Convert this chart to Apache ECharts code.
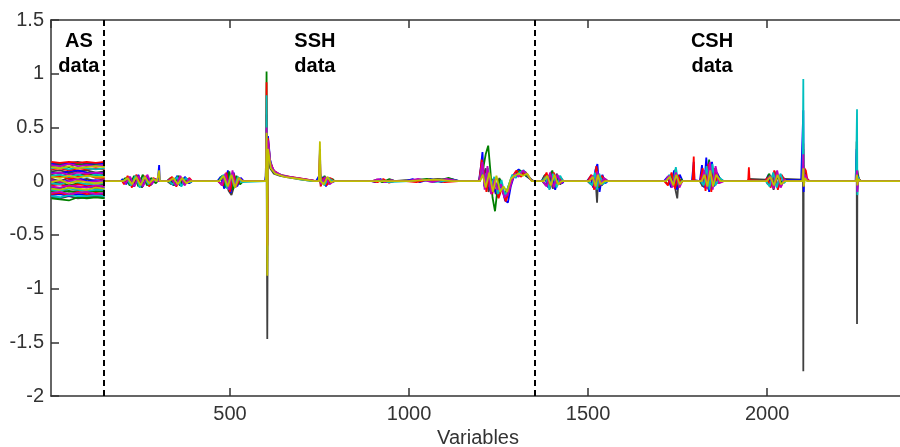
<!DOCTYPE html>
<html><head><meta charset="utf-8">
<script src="https://cdn.jsdelivr.net/npm/echarts@6/dist/echarts.min.js"></script>
<style>html,body{margin:0;padding:0;background:#fff}#c{width:900px;height:447px}</style>
</head><body><div id="c"></div>
<script>
// ---- data ----
const asX = [1, 25, 50, 75, 100, 125, 150];

const grayAS = [
  [0.17,0.16,0.17,0.18,0.16,0.17,0.17],
  [0.09,0.10,0.08,0.09,0.10,0.08,0.09],
  [0.02,0.00,0.03,0.01,0.02,0.00,0.02],
  [-0.09,-0.08,-0.10,-0.09,-0.08,-0.10,-0.09],
  [-0.15,-0.16,-0.14,-0.16,-0.15,-0.14,-0.15]
];
const blueAS = [
  [0.16,0.15,0.17,0.16,0.15,0.16,0.16],
  [0.08,0.07,0.09,0.10,0.08,0.07,0.08],
  [0.00,-0.02,0.01,0.03,0.00,0.01,0.00],
  [-0.06,-0.07,-0.04,-0.06,-0.05,-0.07,-0.06],
  [-0.13,-0.12,-0.14,-0.12,-0.13,-0.12,-0.13]
];
const greenAS = [
  [0.14,0.15,0.13,0.16,0.14,0.15,0.14],
  [0.06,0.04,0.07,0.05,0.07,0.05,0.06],
  [-0.03,-0.01,-0.04,-0.02,-0.03,-0.02,-0.03],
  [-0.10,-0.11,-0.09,-0.11,-0.10,-0.09,-0.10],
  [-0.16,-0.17,-0.18,-0.15,-0.16,-0.15,-0.16]
];
const redAS = [
  [0.18,0.17,0.18,0.17,0.18,0.17,0.18],
  [0.11,0.12,0.10,0.12,0.11,0.12,0.11],
  [0.03,0.05,0.02,0.04,0.06,0.03,0.03],
  [-0.04,-0.03,-0.05,-0.03,-0.04,-0.05,-0.04],
  [-0.12,-0.11,-0.13,-0.10,-0.12,-0.11,-0.12]
];
const cyanAS = [
  [0.12,0.13,0.11,0.13,0.12,0.11,0.12],
  [0.05,0.06,0.04,0.06,0.04,0.06,0.05],
  [-0.02,-0.03,0.00,-0.01,-0.03,-0.02,-0.02],
  [-0.08,-0.09,-0.07,-0.08,-0.09,-0.08,-0.08],
  [-0.14,-0.15,-0.13,-0.14,-0.14,-0.13,-0.14]
];
const magentaAS = [
  [0.15,0.14,0.16,0.14,0.15,0.14,0.15],
  [0.07,0.08,0.06,0.08,0.07,0.08,0.07],
  [0.01,-0.01,0.00,0.02,-0.01,0.00,0.01],
  [-0.05,-0.06,-0.04,-0.05,-0.06,-0.04,-0.05],
  [-0.11,-0.10,-0.12,-0.11,-0.10,-0.12,-0.11]
];
const yellowAS = [
  [0.13,0.12,0.14,0.12,0.13,0.14,0.13],
  [0.04,0.03,0.05,0.03,0.05,0.04,0.04],
  [-0.01,0.01,-0.02,0.00,-0.01,-0.02,-0.01],
  [-0.07,-0.08,-0.06,-0.07,-0.08,-0.06,-0.07]
];

const grayTrace = [
  [150,0],[198,0],[206,-0.02],[218,0.03],[230,-0.04],[242,0.04],[254,-0.06],[266,0.03],[278,-0.04],[290,0.02],[298,0],
  [324,0],[336,-0.03],[348,0.03],[360,-0.04],[372,0.03],[384,-0.02],[394,0],
  [466,0],[476,-0.03],[486,0.05],[496,-0.09],[504,-0.13],[512,-0.04],[522,0.03],[536,0],
  [599,0],[602,0.35],[604,-1.47],[606,0.25],[612,0.12],[622,0.07],[640,0.05],[670,0.03],[710,0.01],[740,0],
  [748,0],[751,0.12],[753,-0.03],[762,0.02],[772,-0.03],[784,0.01],[792,0],
  [900,0],[915,0.01],[930,-0.01],[958,0],[990,0.01],[1040,0.01],[1080,0.02],[1130,0.01],[1140,0],
  [1196,0],[1202,0.15],[1208,0.05],[1214,0.12],[1222,-0.1],[1232,0.02],[1242,-0.12],[1252,0.03],[1262,-0.1],[1272,-0.16],[1282,-0.02],[1292,0.04],[1302,0.09],[1314,0.05],[1326,0.08],[1340,0.02],[1348,0],
  [1372,0],[1382,-0.04],[1392,0.06],[1402,-0.07],[1412,0.07],[1422,-0.03],[1432,0],
  [1498,0],[1508,-0.03],[1516,0.05],[1522,-0.05],[1525,-0.2],[1528,0.03],[1538,-0.04],[1548,0.02],[1556,0],
  [1714,0],[1724,-0.03],[1734,0.05],[1742,-0.05],[1749,-0.16],[1753,0.02],[1762,0],
  [1812,0],[1820,-0.05],[1828,0.1],[1836,-0.08],[1844,0.12],[1852,-0.03],[1862,0.05],[1872,0.01],[1880,0],
  [1946,0],[1949,0.02],[1995,0.015],[2002,-0.03],[2010,0.05],[2018,-0.08],[2028,0.06],[2038,-0.05],[2048,0.02],[2052,0.015],[2098,0.015],
  [2100,0.38],[2101,-1.77],[2102,0.15],[2106,0.05],[2112,0.02],[2118,0],
  [2248,0],[2250,0.37],[2251,-1.33],[2252,0.1],[2256,0.02],[2262,0],[2385,0]
];
const blueTrace = [
  [150,0],[195,0],[200,0.02],[210,-0.03],[220,0.04],[232,-0.05],[244,0.06],[256,-0.05],[268,0.05],[280,-0.03],[292,0.02],[298,0],
  [300,0],[302,0.15],[304,0],
  [324,0],[332,0.02],[342,-0.04],[352,0.05],[362,-0.04],[374,0.04],[386,-0.02],[394,0],
  [465,0],[474,0.04],[484,-0.07],[494,0.1],[502,-0.11],[510,0.08],[520,-0.05],[530,0.03],[538,0],
  [598,0],[600,0.05],[602,0.62],[604,-0.25],[606,0.42],[612,0.2],[620,0.1],[635,0.06],[660,0.04],[700,0.02],[740,0],
  [745,0],[749,0.05],[751,0.3],[753,-0.02],[760,0.04],[768,-0.05],[776,0.03],[786,-0.01],[792,0],
  [895,0],[905,-0.01],[920,0.02],[935,-0.01],[950,0.01],[960,0],[990,0],[1010,0.02],[1030,-0.01],[1060,0.02],[1090,-0.01],[1120,0.02],[1140,0],
  [1195,0],[1200,0.12],[1205,0.27],[1210,-0.05],[1218,0.1],[1226,-0.08],[1236,-0.05],[1248,-0.15],[1256,-0.02],[1268,-0.18],[1276,-0.2],[1284,-0.05],[1296,0.08],[1306,0.11],[1318,0.07],[1330,0.04],[1345,0],
  [1370,0],[1378,0.05],[1388,-0.06],[1398,0.09],[1408,-0.08],[1418,0.05],[1428,-0.02],[1432,0],
  [1497,0],[1506,0.04],[1514,-0.06],[1520,0.1],[1526,0.16],[1532,-0.1],[1540,0.06],[1548,-0.02],[1555,0],
  [1712,0],[1722,0.04],[1732,-0.06],[1740,0.1],[1748,-0.08],[1756,0.06],[1764,0],
  [1790,0],[1795,0.18],[1797,0.01],[1812,0],[1818,0.15],[1824,-0.06],[1830,0.22],[1838,-0.1],[1846,0.18],[1852,-0.05],[1860,0.08],[1870,0.01],[1880,0],
  [1995,0],[2004,0.06],[2012,-0.04],[2020,0.08],[2030,-0.07],[2040,0.05],[2050,0.01],[2095,0.01],
  [2099,0],[2101,0.66],[2102,-0.1],[2104,0.1],[2110,0.02],[2118,0],
  [2247,0],[2250,0.3],[2251,-0.1],[2253,0.05],[2258,0],[2385,0]
];
const greenTrace = [
  [150,0],[200,0],[208,0.03],[220,-0.04],[232,0.05],[244,-0.05],[256,0.06],[268,-0.04],[280,0.03],[292,-0.02],[298,0],
  [324,0],[334,0.03],[344,-0.04],[356,0.05],[368,-0.03],[380,0.02],[392,0],
  [468,0],[478,0.05],[488,-0.06],[498,0.09],[508,-0.08],[518,0.05],[528,-0.03],[537,0],
  [600,0],[602,1.02],[604,-0.2],[606,0.3],[612,0.15],[624,0.08],[645,0.05],[680,0.03],[720,0.01],[740,0],
  [747,0],[751,0.1],[754,-0.04],[764,0.05],[774,-0.02],[786,0.02],[792,0],
  [898,0],[910,0.015],[925,-0.01],[945,0.02],[960,0],[995,0],[1015,0.01],[1050,0.02],[1080,0],[1110,0.03],[1135,0],
  [1198,0],[1206,0.1],[1214,0.25],[1221,0.33],[1227,0.1],[1233,-0.15],[1240,-0.28],[1246,-0.1],[1254,0.02],[1264,-0.12],[1274,-0.08],[1286,0.03],[1298,0.06],[1310,0.1],[1322,0.06],[1336,0.03],[1346,0],
  [1371,0],[1380,0.06],[1390,-0.05],[1400,0.1],[1410,-0.05],[1420,0.04],[1430,0],
  [1500,0],[1510,0.05],[1518,-0.04],[1524,0.12],[1530,-0.06],[1540,0.03],[1552,0],
  [1716,0],[1726,0.05],[1736,-0.05],[1744,0.11],[1752,-0.05],[1760,0.02],[1764,0],
  [1814,0],[1822,0.08],[1830,-0.05],[1838,0.2],[1846,-0.06],[1854,0.1],[1866,0.02],[1878,0],
  [1996,0],[2006,0.07],[2016,-0.05],[2026,0.09],[2036,-0.04],[2046,0.03],[2052,0],
  [2099,0],[2101,0.3],[2102,-0.05],[2105,0.08],[2112,0.01],[2118,0],
  [2248,0],[2251,0.2],[2252,-0.05],[2255,0.03],[2260,0],[2385,0]
];
const redTrace = [
  [150,0],[199,0],[204,-0.03],[214,0.05],[226,-0.06],[238,0.06],[250,-0.04],[262,0.05],[274,-0.05],[286,0.03],[296,0],
  [326,0],[338,0.04],[350,-0.05],[362,0.04],[374,-0.03],[386,0.03],[394,0],
  [467,0],[480,-0.04],[490,0.08],[500,-0.1],[510,0.07],[518,-0.04],[528,0.02],[536,0],
  [600,0],[602,0.92],[604,-0.6],[606,0.4],[612,0.18],[622,0.1],[640,0.06],[668,0.04],[705,0.02],[740,0],
  [748,0],[751,0.26],[753,-0.05],[760,0.03],[770,-0.04],[780,0.03],[790,0],
  [896,0],[912,-0.01],[928,0.02],[944,-0.015],[958,0],[992,0],[1020,-0.01],[1055,0.015],[1100,-0.01],[1138,0],
  [1196,0],[1203,0.2],[1209,0.08],[1216,-0.1],[1224,0.05],[1232,-0.12],[1242,-0.02],[1250,-0.16],[1260,-0.06],[1270,-0.19],[1280,-0.08],[1290,0.05],[1300,0.1],[1312,0.04],[1324,0.09],[1338,0.02],[1347,0],
  [1373,0],[1384,0.08],[1394,-0.07],[1404,0.08],[1414,-0.04],[1424,0.03],[1431,0],
  [1499,0],[1509,0.06],[1517,-0.08],[1523,0.14],[1529,-0.05],[1538,0.05],[1550,0],
  [1713,0],[1723,-0.04],[1733,0.08],[1743,-0.07],[1751,0.06],[1759,-0.02],[1764,0],
  [1792,0],[1795,0.23],[1797,0],
  [1813,0],[1820,0.12],[1828,-0.09],[1836,0.16],[1844,-0.1],[1852,0.12],[1862,-0.02],[1876,0],
  [1947,0],[1949,0.13],[1951,0.01],[1994,0],[2000,0.03],[2010,-0.06],[2020,0.1],[2030,-0.08],[2040,0.06],[2050,0],
  [2099,0],[2101,0.35],[2102,0],[2104,0.12],[2108,0.1],[2112,0.02],[2118,0],
  [2248,0],[2251,0.12],[2252,-0.03],[2256,0.02],[2260,0],[2385,0]
];
const cyanTrace = [
  [150,0],[200,0],[212,0.02],[224,-0.04],[236,0.05],[248,-0.06],[260,0.04],[272,-0.03],[284,0.02],[294,0],
  [328,0],[340,-0.03],[352,0.04],[364,-0.05],[376,0.03],[388,-0.01],[394,0],
  [469,0],[482,0.06],[492,-0.07],[502,0.06],[512,-0.05],[522,0.04],[532,-0.01],[537,0],
  [600,0],[602,0.8],[604,-0.15],[606,0.35],[614,0.14],[626,0.08],[650,0.05],[690,0.02],[730,0],
  [748,0],[751,0.06],[754,0.02],[764,-0.04],[774,0.03],[788,0],
  [902,0],[922,0.01],[940,-0.01],[1000,0],[1030,0.015],[1070,-0.01],[1120,0.01],[1138,0],
  [1197,0],[1204,0.14],[1212,-0.04],[1220,0.12],[1228,-0.06],[1238,0.04],[1248,-0.12],[1258,0.01],[1268,-0.14],[1278,-0.04],[1288,0.06],[1298,0.03],[1308,0.08],[1320,0.1],[1332,0.05],[1345,0],
  [1372,0],[1382,0.04],[1392,-0.08],[1402,0.07],[1412,-0.06],[1422,0.05],[1430,0],
  [1501,0],[1511,-0.04],[1519,0.08],[1525,-0.08],[1531,0.07],[1541,-0.03],[1553,0],
  [1717,0],[1727,0.06],[1737,-0.04],[1745,0.13],[1753,-0.04],[1762,0],
  [1815,0],[1823,-0.04],[1831,0.14],[1839,-0.08],[1847,0.16],[1855,-0.04],[1868,0.03],[1878,0],
  [1997,0],[2007,-0.05],[2017,0.08],[2027,-0.06],[2037,0.07],[2047,-0.02],[2052,0],
  [2099,0],[2101,0.95],[2102,0],[2105,0.05],[2112,0],
  [2248,0],[2251,0.67],[2252,-0.13],[2254,0.04],[2258,0],[2385,0]
];
const magentaTrace = [
  [150,0],[201,0],[209,-0.02],[221,0.04],[233,-0.05],[245,0.05],[257,-0.05],[269,0.06],[281,-0.03],[291,0.02],[297,0],
  [325,0],[337,0.02],[349,-0.04],[361,0.05],[373,-0.04],[385,0.02],[393,0],
  [468,0],[477,-0.04],[487,0.07],[497,-0.08],[507,0.1],[515,-0.06],[525,0.03],[535,0],
  [600,0],[602,0.5],[604,-0.4],[606,0.38],[613,0.16],[624,0.09],[648,0.05],[685,0.03],[725,0.01],[740,0],
  [748,0],[751,0.08],[754,-0.03],[766,0.04],[778,-0.03],[790,0],
  [897,0],[914,0.02],[932,-0.01],[950,0.01],[962,0],[995,0],[1025,0.02],[1065,-0.01],[1105,0.02],[1138,0],
  [1197,0],[1205,0.18],[1211,-0.08],[1219,0.14],[1229,-0.12],[1239,0.02],[1247,-0.08],[1257,-0.03],[1266,-0.15],[1276,-0.12],[1286,-0.01],[1296,0.07],[1306,0.04],[1318,0.1],[1330,0.06],[1344,0],
  [1374,0],[1384,-0.05],[1394,0.08],[1404,-0.06],[1414,0.06],[1424,-0.02],[1431,0],
  [1502,0],[1512,0.05],[1520,-0.06],[1526,0.09],[1534,-0.04],[1544,0.03],[1554,0],
  [1715,0],[1725,0.05],[1735,-0.06],[1745,0.08],[1755,-0.06],[1763,0],
  [1816,0],[1824,0.1],[1832,-0.07],[1840,0.18],[1848,-0.08],[1856,0.14],[1866,-0.02],[1879,0],
  [1998,0],[2008,0.05],[2018,-0.07],[2028,0.1],[2038,-0.06],[2048,0.02],[2053,0],
  [2099,0],[2101,0.25],[2102,-0.05],[2106,0.06],[2114,0],
  [2248,0],[2251,0.1],[2252,-0.1],[2255,0.02],[2260,0],[2385,0]
];
const yellowTrace = [
  [150,0],[202,0],[214,0.03],[226,-0.03],[238,0.04],[250,-0.04],[262,0.04],[274,-0.02],[286,0.02],[296,0],
  [300,0],[302,0.1],[304,0],
  [330,0],[342,0.03],[354,-0.03],[366,0.03],[378,-0.02],[390,0],
  [470,0],[482,0.05],[494,-0.05],[504,0.06],[514,-0.06],[524,0.03],[534,0],
  [600,0],[602,0.45],[604,-0.88],[606,0.3],[614,0.12],[626,0.07],[652,0.04],[695,0.02],[735,0],
  [748,0],[751,0.37],[753,0],[762,-0.03],[772,0.04],[782,-0.01],[790,0],
  [1000,0],[1040,0.01],[1080,0.015],[1120,0],
  [1198,0],[1206,0.06],[1214,-0.06],[1224,0.08],[1234,-0.1],[1244,0.05],[1254,-0.1],[1264,-0.05],[1274,-0.1],[1284,0.02],[1294,0.05],[1306,0.07],[1318,0.05],[1330,0.07],[1342,0],
  [1376,0],[1386,0.05],[1396,-0.04],[1406,0.06],[1416,-0.03],[1426,0],
  [1503,0],[1513,0.04],[1521,-0.05],[1527,0.06],[1535,-0.03],[1546,0],
  [1718,0],[1728,0.04],[1738,-0.04],[1746,0.06],[1756,-0.03],[1763,0],
  [1817,0],[1825,0.06],[1833,-0.05],[1841,0.1],[1849,-0.05],[1858,0.06],[1870,0],
  [1999,0],[2009,0.04],[2019,-0.04],[2029,0.06],[2039,-0.03],[2049,0],
  [2099,0],[2101,0.12],[2102,-0.05],[2106,0.03],[2112,0],
  [2248,0],[2251,0.06],[2252,-0.04],[2255,0.02],[2260,0],[2385,0]
];

const dividers = [148, 1352];
const regionNames = ['AS\ndata', 'SSH\ndata', 'CSH\ndata'];
const regionCenters = [78, 737, 1846];
const regionLabelY = 1.18;

// ---- build ----
const FONT = 'Arial, "Liberation Sans", sans-serif';
function build(asLines, trace) {
  const d = [];
  asLines.forEach(line => {
    line.forEach((v, i) => d.push([asX[i], v]));
    d.push([asX[asX.length - 1], '-']);
  });
  trace.forEach(p => d.push(p));
  return d;
}
const groups = [
  ['gray', '#404040', grayAS, grayTrace],
  ['blue', '#0000ff', blueAS, blueTrace],
  ['green', '#008000', greenAS, greenTrace],
  ['red', '#ff0000', redAS, redTrace],
  ['cyan', '#00bfbf', cyanAS, cyanTrace],
  ['magenta', '#bf00bf', magentaAS, magentaTrace],
  ['yellow', '#bfbf00', yellowAS, yellowTrace]
];
const series = groups.map(([name, color, as, tr]) => ({
  name, type: 'line', data: build(as, tr), showSymbol: false, symbol: 'none',
  connectNulls: false, silent: true, animation: false,
  lineStyle: { color, width: 1.8 }
}));
series.push({
  type: 'line', data: [], silent: true, animation: false,
  markLine: {
    silent: true, symbol: ['none', 'none'], label: { show: false },
    lineStyle: { color: '#000', type: [6, 4], width: 2 },
    data: dividers.map(v => ({ xAxis: v }))
  }
});

const axisCol = '#333';
const chart = echarts.init(document.getElementById('c'), null, { renderer: 'canvas' });
const xBase = {
  type: 'value', min: 0, max: 2385, interval: 500,
  axisLine: { show: true, onZero: false, lineStyle: { color: axisCol, width: 1.5 } },
  axisTick: { show: true, inside: true, length: 8, lineStyle: { color: axisCol, width: 1.5 } },
  splitLine: { show: false }
};
chart.setOption({
  animation: false,
  backgroundColor: '#fff',
  grid: { left: 51, right: -5, top: 20, bottom: 51, containLabel: false, outerBoundsMode: 'none' },
  xAxis: [
    Object.assign({}, xBase, {
      position: 'bottom',
      axisLabel: { fontSize: 20, color: axisCol, margin: 8, fontFamily: FONT, showMinLabel: false, showMaxLabel: false,
                   formatter: v => String(v) },
      name: 'Variables', nameLocation: 'middle', nameGap: 32,
      nameTextStyle: { fontSize: 20, color: axisCol, fontFamily: FONT }
    }),
    Object.assign({}, xBase, { position: 'top', axisLabel: { show: false } })
  ],
  yAxis: {
    type: 'value', min: -2, max: 1.5, interval: 0.5,
    axisLine: { show: true, onZero: false, lineStyle: { color: axisCol, width: 1.5 } },
    axisTick: { show: true, inside: true, length: 8, lineStyle: { color: axisCol, width: 1.5 } },
    axisLabel: { fontSize: 20, color: axisCol, margin: 7, fontFamily: FONT, formatter: v => String(v) },
    splitLine: { show: false }
  },
  series
});
const texts = regionNames.map((t, i) => {
  const p = chart.convertToPixel({ xAxisIndex: 0, yAxisIndex: 0 }, [regionCenters[i], regionLabelY]);
  return {
    type: 'text', x: p[0], y: p[1], silent: true,
    style: { text: t, fontSize: 20, fontWeight: 'bold', fontFamily: FONT, fill: '#000',
             align: 'center', verticalAlign: 'middle', lineHeight: 25 }
  };
});
chart.setOption({ graphic: texts });
</script>
</body></html>
